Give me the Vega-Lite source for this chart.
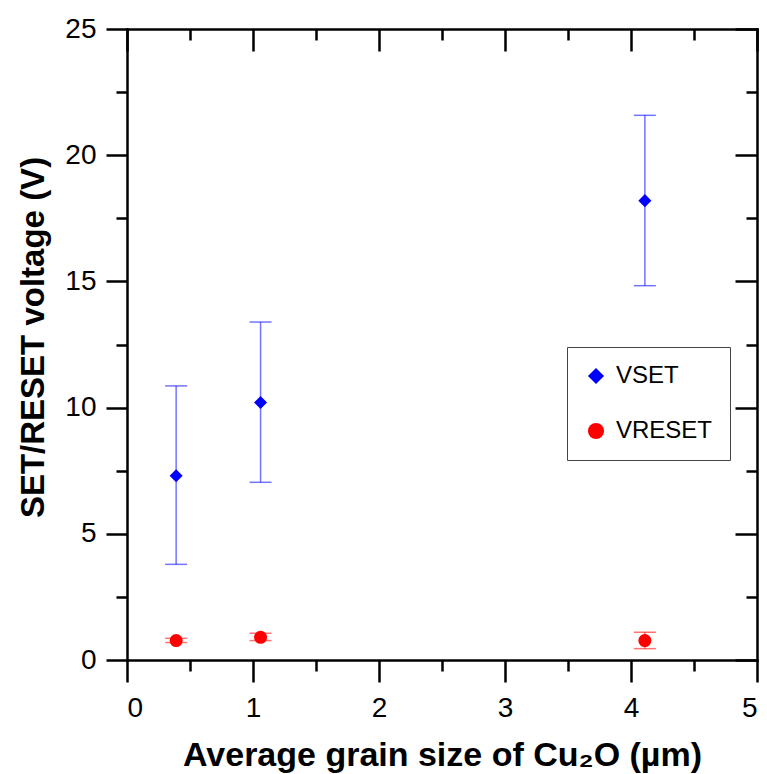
{
  "$schema": "https://vega.github.io/schema/vega-lite/v6.json",
  "autosize": {"type": "none"},
  "padding": {"left": 127, "top": 29, "right": 10, "bottom": 114},
  "width": 630,
  "height": 631,
  "background": "white",
  "data": {
    "values": [
      {"series": "VSET", "x": 0.39, "y": 7.3, "lo": 3.79, "hi": 10.86},
      {"series": "VSET", "x": 1.06, "y": 10.2, "lo": 7.04, "hi": 13.39},
      {"series": "VSET", "x": 4.11, "y": 18.2, "lo": 14.83, "hi": 21.58},
      {"series": "VRESET", "x": 0.39, "y": 0.77, "lo": 0.69, "hi": 0.86},
      {"series": "VRESET", "x": 1.06, "y": 0.9, "lo": 0.77, "hi": 1.06},
      {"series": "VRESET", "x": 4.11, "y": 0.77, "lo": 0.45, "hi": 1.1}
    ]
  },
  "config": {
    "view": {"stroke": null},
    "axis": {
      "grid": false,
      "labelFont": "Liberation Sans",
      "titleFont": "Liberation Sans",
      "labelColor": "black",
      "titleColor": "black",
      "domainColor": "black",
      "tickColor": "black",
      "domainWidth": 2.5,
      "tickWidth": 2.5,
      "domainCap": "square",
      "labelFontSize": 28,
      "titleFontSize": 32,
      "titleFontWeight": "bold"
    },
    "legend": {
      "labelFont": "Liberation Sans",
      "labelFontSize": 24,
      "labelColor": "black"
    }
  },
  "resolve": {"axis": {"x": "independent", "y": "independent"}},
  "layer": [
    {
      "mark": {"type": "rule", "strokeWidth": 1.5, "opacity": 0.55},
      "encoding": {
        "x": {"field": "x", "type": "quantitative",
          "scale": {"domain": [0, 5], "nice": false, "zero": false},
          "axis": {"orient": "bottom", "values": [0, 1, 2, 3, 4, 5], "tickSize": 22, "labelPadding": 12,
            "title": "Average grain size of Cu₂O (µm)", "titleY": 105, "titleBaseline": "alphabetic", "titleFontSize": 34}},
        "y": {"field": "lo", "type": "quantitative",
          "scale": {"domain": [0, 25], "nice": false, "zero": false},
          "axis": {"orient": "left", "values": [0, 5, 10, 15, 20, 25], "tickSize": 21, "labelPadding": 10,
            "title": "SET/RESET voltage (V)", "titleX": -84, "titleY": 308, "titleBaseline": "alphabetic", "titleAngle": -90, "titleFontSize": 33}},
        "y2": {"field": "hi"},
        "color": {"condition": {"test": "datum.series === 'VSET'", "value": "#0000ff"}, "value": "#ff0000"}
      }
    },
    {
      "mark": {"type": "tick", "orient": "horizontal", "size": 22, "thickness": 1.5, "opacity": 0.55},
      "encoding": {
        "x": {"field": "x", "type": "quantitative",
          "scale": {"domain": [0, 5], "nice": false, "zero": false},
          "axis": {"orient": "bottom", "values": [0.5, 1.5, 2.5, 3.5, 4.5], "tickSize": 11, "labels": false, "domain": false, "title": null}},
        "y": {"field": "lo", "type": "quantitative",
          "scale": {"domain": [0, 25], "nice": false, "zero": false},
          "axis": {"orient": "left", "values": [2.5, 7.5, 12.5, 17.5, 22.5], "tickSize": 11, "labels": false, "domain": false, "title": null}},
        "color": {"condition": {"test": "datum.series === 'VSET'", "value": "#0000ff"}, "value": "#ff0000"}
      }
    },
    {
      "mark": {"type": "tick", "orient": "horizontal", "size": 22, "thickness": 1.5, "opacity": 0.55},
      "encoding": {
        "x": {"field": "x", "type": "quantitative",
          "scale": {"domain": [0, 5], "nice": false, "zero": false},
          "axis": {"orient": "top", "values": [0, 1, 2, 3, 4, 5], "tickSize": -22, "labels": false, "title": null}},
        "y": {"field": "hi", "type": "quantitative",
          "scale": {"domain": [0, 25], "nice": false, "zero": false},
          "axis": {"orient": "right", "values": [0, 5, 10, 15, 20, 25], "tickSize": -22, "labels": false, "title": null}},
        "color": {"condition": {"test": "datum.series === 'VSET'", "value": "#0000ff"}, "value": "#ff0000"}
      }
    },
    {
      "mark": {"type": "point", "filled": true, "opacity": 1, "size": 170},
      "encoding": {
        "x": {"field": "x", "type": "quantitative",
          "scale": {"domain": [0, 5], "nice": false, "zero": false},
          "axis": {"orient": "top", "values": [0.5, 1.5, 2.5, 3.5, 4.5], "tickSize": -11, "labels": false, "domain": false, "title": null}},
        "y": {"field": "y", "type": "quantitative",
          "scale": {"domain": [0, 25], "nice": false, "zero": false},
          "axis": {"orient": "right", "values": [2.5, 7.5, 12.5, 17.5, 22.5], "tickSize": -11, "labels": false, "domain": false, "title": null}},
        "color": {"field": "series", "type": "nominal",
          "scale": {"domain": ["VSET", "VRESET"], "range": ["#0000ff", "#ff0000"]},
          "legend": {"title": null, "orient": "none", "legendX": 440, "legendY": 318,
            "strokeColor": "#444", "padding": 17, "rowPadding": 31, "symbolSize": 260,
            "labelOffset": 8, "symbolStrokeWidth": 0}},
        "shape": {"field": "series", "type": "nominal",
          "scale": {"domain": ["VSET", "VRESET"], "range": ["diamond", "circle"]},
          "legend": {"title": null, "orient": "none", "legendX": 440, "legendY": 318,
            "strokeColor": "#444", "padding": 17, "rowPadding": 31, "symbolSize": 260,
            "labelOffset": 8, "symbolStrokeWidth": 0}}
      }
    }
  ]
}
